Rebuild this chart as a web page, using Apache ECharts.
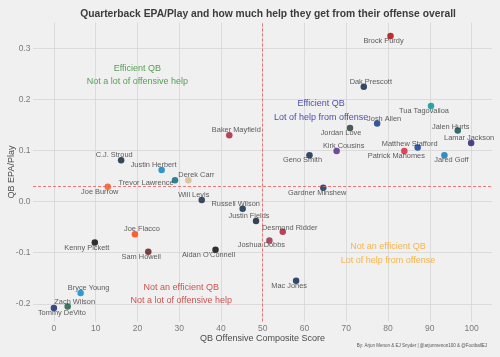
<!DOCTYPE html>
<html><head><meta charset="utf-8">
<script src="https://cdn.jsdelivr.net/npm/echarts@6/dist/echarts.min.js"></script>
<style>html,body{margin:0;padding:0;background:#F0F0F0}#c{width:500px;height:357px}</style>
</head><body><div id="c"></div>
<script>
const players = ["Brock Purdy","Dak Prescott","Tua Tagovailoa","Josh Allen","Jalen Hurts","Jordan Love","Lamar Jackson","Matthew Stafford","Patrick Mahomes","Jared Goff","Kirk Cousins","Geno Smith","Gardner Minshew","Derek Carr","Will Levis","Russell Wilson","Justin Fields","Desmond Ridder","Joshua Dobbs","Aidan O'Connell","Mac Jones","C.J. Stroud","Justin Herbert","Trevor Lawrence","Joe Burrow","Joe Flacco","Kenny Pickett","Sam Howell","Bryce Young","Zach Wilson","Tommy DeVito","Baker Mayfield"];
const offenseScore = [80.6,74.2,90.3,77.4,96.7,70.9,99.9,87.1,83.9,93.5,67.7,61.2,64.5,32.2,35.4,45.2,48.4,54.8,51.6,38.7,58.0,16.1,25.8,29.0,12.9,19.4,9.8,22.6,6.4,3.3,0.0,42.0];
const epaPerPlay = [0.324,0.225,0.187,0.153,0.139,0.144,0.115,0.106,0.099,0.091,0.099,0.091,0.027,0.042,0.003,-0.014,-0.038,-0.059,-0.076,-0.094,-0.155,0.081,0.062,0.042,0.029,-0.064,-0.080,-0.098,-0.179,-0.205,-0.208,0.130];
const teamColors = ["#AA0000","#041E42","#008E97","#00338D","#004C54","#203731","#241773","#003594","#E31837","#0076B6","#4F2683","#002244","#002C5F","#D3BC8D","#0C2340","#002244","#0B162A","#A71930","#97233F","#000000","#002244","#03202F","#0080C6","#006778","#FB4F14","#FF3C00","#000000","#5A1414","#0085CA","#125740","#0B2265","#A71930"];
// label placement (style only)
const labelOffsets = [[-7,5],[7,-5],[-7,5],[7,-4],[-7,-4],[-9,5],[-2,-5],[-8,-4],[-8,5],[7,5],[7,-5],[-7,5],[-6,5],[8,-5],[-8,-5],[-7,-5],[-7,-5],[7,-4],[-8,5],[-7,5],[-7,5],[-7,-5],[-8,-5],[-29,3],[-8,5],[7,-5],[-8,5],[-7,5],[8,-5],[7,-4],[8,5],[7,-5]];
const xTicks = [0,10,20,30,40,50,60,70,80,90,100];
const yTicks = [-0.2,-0.1,0.0,0.1,0.2,0.3];
const xRef = 50;
const yRef = 0.028;
const quadrantText = ["Efficient QB\nNot a lot of offensive help","Efficient QB\nLot of help from offense","Not an efficient QB\nLot of help from offense","Not an efficient QB\nNot a lot of offensive help"];
const quadrantX = [20,64,80,30.5];
const quadrantY = [0.248,0.178,-0.102,-0.181];
const quadrantColors = ["#2E8B2E","#23239C","#F5A623","#C62828"];

const font = "Liberation Sans, Arial, Helvetica, sans-serif";
const chart = echarts.init(document.getElementById('c'), null, {renderer:'canvas'});
const pts = players.map((p,i)=>({
  name:p, value:[offenseScore[i],epaPerPlay[i]],
  itemStyle:{color:teamColors[i]},
  label:{offset:labelOffsets[i]}
}));
const notes = quadrantText.map((t,i)=>({
  value:[quadrantX[i],quadrantY[i]],
  label:{formatter:t,color:quadrantColors[i]}
}));
chart.setOption({
  backgroundColor:'#F0F0F0',
  animation:false,
  title:{text:'Quarterback EPA/Play and how much help they get from their offense overall',left:263,top:4,textAlign:'center',
    textStyle:{fontFamily:font,fontSize:10.3,fontWeight:'bold',color:'#3C3C3C'}},
  grid:{left:33,right:8,top:22.5,bottom:35.5,containLabel:false,outerBoundsMode:'none'},
  xAxis:{type:'value',min:-5.0,max:104.9,
    name:'QB Offensive Composite Score',nameLocation:'middle',nameGap:12.5,nameMoveOverlap:false,
    nameTextStyle:{fontFamily:font,fontSize:9,color:'#4A4A4A'},
    axisLine:{show:false},axisTick:{show:false,customValues:xTicks},
    axisLabel:{customValues:xTicks,margin:3,fontFamily:font,fontSize:8.5,color:'#7A7A7A'},
    splitLine:{show:true,lineStyle:{color:'#D6D6D6',width:0.8}}},
  yAxis:{type:'value',min:-0.2346,max:0.3506,
    name:'QB EPA/Play',nameLocation:'middle',nameGap:17,nameMoveOverlap:false,
    nameTextStyle:{fontFamily:font,fontSize:9,color:'#4A4A4A'},
    axisLine:{show:false},axisTick:{show:false,customValues:yTicks},
    axisLabel:{customValues:yTicks,margin:2.5,fontFamily:font,fontSize:8.5,color:'#7A7A7A',
      formatter:v=>v.toFixed(1)},
    splitLine:{show:true,lineStyle:{color:'#D6D6D6',width:0.8}}},
  series:[
    {type:'scatter',symbolSize:6.5,data:pts,z:3,
      label:{show:true,position:'inside',formatter:'{b}',fontFamily:font,fontSize:7.4,color:'#333333'},
      markLine:{silent:true,symbol:'none',label:{show:false},
        lineStyle:{color:'#E8585A',type:[3,2],width:0.8},
        data:[{xAxis:xRef},{yAxis:yRef}]}},
    {type:'scatter',symbolSize:0,data:notes,z:2,
      label:{show:true,position:'inside',fontFamily:font,fontSize:9,lineHeight:13.5,align:'center'}}
  ],
  graphic:[{type:'text',right:13,top:343,style:{text:'By: Arjun Menon & EJ Snyder | @arjunmenon100 & @FootballEJ',
    font:'4.5px '+font,fill:'#555555'}}]
});
</script></body></html>
